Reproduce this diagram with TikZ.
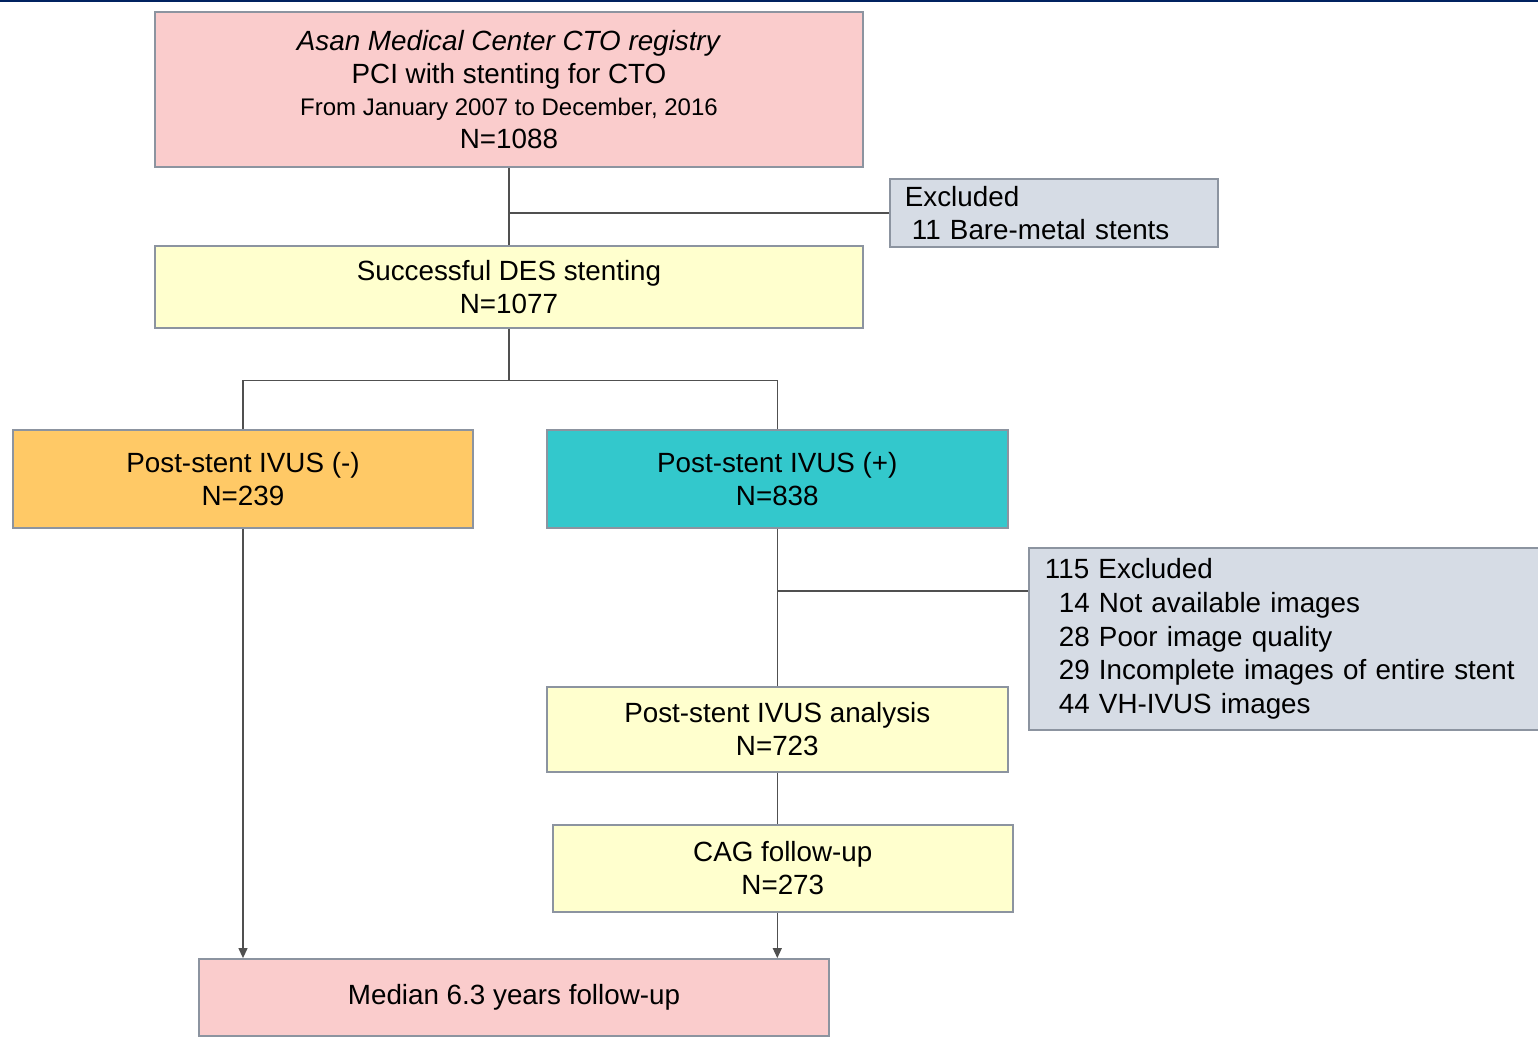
\documentclass[tikz,border=0pt]{standalone}
\usepackage{fontspec}
\setmainfont{Liberation Sans}
\usetikzlibrary{positioning, arrows.meta, calc}

\definecolor{pinkfill}{RGB}{250,204,204}
\definecolor{yellowfill}{RGB}{255,255,206}
\definecolor{orangefill}{RGB}{255,201,102}
\definecolor{tealfill}{RGB}{51,200,204}
\definecolor{greyfill}{RGB}{214,220,229}
\definecolor{edgegrey}{RGB}{140,148,160}
\definecolor{linegrey}{RGB}{80,80,80}
\definecolor{topnavy}{RGB}{0,34,96}

\begin{document}
\begin{tikzpicture}[
  x=0.5pt, y=-0.5pt, >={Triangle[width=4.5pt,length=5pt]},
  font=\fontsize{13.9}{16.4}\selectfont,
  box/.style={draw=edgegrey, line width=0.9pt, rectangle, align=center, inner sep=0pt},
  sidebox/.style={box, fill=greyfill, align=left, inner xsep=7.5pt, anchor=west},
  link/.style={draw=linegrey, line width=0.6pt},
  arrow/.style={link, ->}
]
\useasboundingbox (0,0) rectangle (1538,1038);
\draw[topnavy, line width=1.4pt] (0,0.7) -- (1538,0.7);

% main column
\node[box, fill=pinkfill, minimum width=354pt, minimum height=77.5pt] (registry) at (509,89.5)
  {\textit{Asan Medical Center CTO registry}\\ PCI with stenting for CTO\\
   {\fontsize{12}{16}\selectfont From January 2007 to December, 2016}\\ N=1088};
\node[box, fill=yellowfill, minimum width=354pt, minimum height=41pt, below=38.5pt of registry] (des)
  {Successful DES stenting\\ N=1077};
\node[box, fill=orangefill, minimum width=230pt, minimum height=49pt] (ivusneg) at (243,479)
  {Post-stent IVUS (-)\\ N=239};
\node[box, fill=tealfill, minimum width=230.5pt, minimum height=49pt, right=36pt of ivusneg] (ivuspos)
  {Post-stent IVUS (+)\\ N=838};
\node[box, fill=yellowfill, minimum width=230.5pt, minimum height=42.5pt, below=78.5pt of ivuspos] (analysis)
  {Post-stent IVUS analysis\\ N=723};
\node[box, fill=yellowfill, minimum width=230pt, minimum height=43.5pt, below=25.5pt of analysis, xshift=2.75pt] (cag)
  {CAG follow-up\\ N=273};
\node[box, fill=pinkfill, minimum width=315pt, minimum height=38.5pt] (median) at (514,997.5)
  {Median 6.3 years follow-up};

% exclusions
\node[sidebox, text width=149pt, minimum height=34pt] (excl1) at (889,213)
  {Excluded\\ \hspace*{0.25em}11 Bare-metal stents};
\node[sidebox, inner xsep=8pt, text width=239pt, minimum height=91pt,
      font=\fontsize{13.9}{16.8}\selectfont] (excl2) at (1028,639)
  {115 Excluded\\ \hspace*{0.5em}14 Not available images\\ \hspace*{0.5em}28 Poor image quality\\
   \hspace*{0.5em}29 Incomplete images of entire stent\\ \hspace*{0.5em}44 VH-IVUS images};

\draw[link] (registry.south) -- (des.north);
\draw[link] (registry.south |- excl1.west) -- (excl1.west);
\draw[link] (des.south) -- ++(0,52) coordinate (fork);
\draw[link] (ivusneg.north) |- (fork) -| (ivuspos.north);
\draw[link] (ivuspos.south) -- (analysis.north);
\coordinate (tap) at ($(ivuspos.south)+(0,62)$);
\draw[link] (tap) -- (tap -| excl2.west);
\draw[link] (analysis.south) -- (analysis.south |- cag.north);
\draw[arrow] (analysis.south |- cag.south) -- (analysis.south |- median.north);
\draw[arrow] (ivusneg.south) -- (ivusneg.south |- median.north);

\end{tikzpicture}
\end{document}
